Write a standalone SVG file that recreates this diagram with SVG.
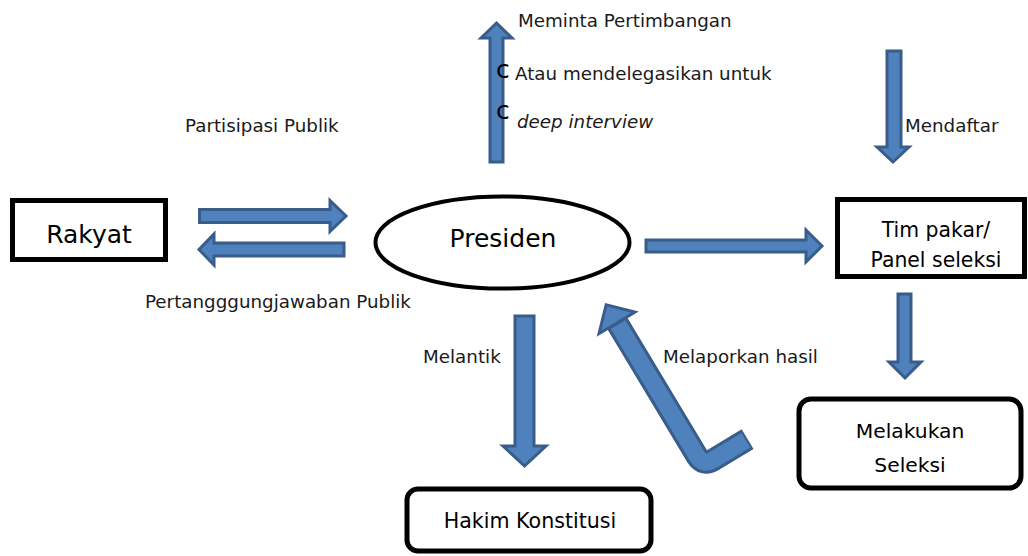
<svg xmlns="http://www.w3.org/2000/svg" width="1028" height="556" viewBox="0 0 1028 556">
  <style>
    .box { fill: #ffffff; stroke: #000000; stroke-width: 5; }
    .node-text { font-family: "DejaVu Sans", Verdana, sans-serif; fill: #000000; text-anchor: middle; }
    .label { font-family: "DejaVu Sans", Verdana, sans-serif; fill: #1a1a1a; font-size: 18.3px; }
    .bullet { font-family: "DejaVu Sans", Verdana, sans-serif; fill: #000000; font-size: 25px; }
    .arrow { fill: #4F81BD; stroke: #385D8A; stroke-width: 3; stroke-linejoin: miter; }
  </style>

  <!-- nodes -->
  <g id="rakyat">
    <rect class="box" x="12.5" y="200.5" width="153" height="59"/>
    <text class="node-text" x="89" y="243" font-size="25">Rakyat</text>
  </g>

  <g id="presiden">
    <ellipse cx="502.5" cy="242.5" rx="127" ry="46" fill="#ffffff" stroke="#000000" stroke-width="4"/>
    <text class="node-text" x="503" y="247" font-size="25">Presiden</text>
  </g>

  <g id="tim-pakar">
    <rect class="box" x="837.5" y="199.5" width="187" height="77"/>
    <text class="node-text" x="936" y="237" font-size="20.4">Tim pakar/</text>
    <text class="node-text" x="936" y="267" font-size="20.4">Panel seleksi</text>
  </g>

  <g id="melakukan-seleksi">
    <rect class="box" x="799" y="399" width="222" height="89" rx="12" ry="12" stroke-width="4.5"/>
    <text class="node-text" x="910" y="438" font-size="20.3">Melakukan</text>
    <text class="node-text" x="910" y="472" font-size="20.3">Seleksi</text>
  </g>

  <g id="hakim-konstitusi">
    <rect class="box" x="407" y="489" width="244" height="62" rx="11" ry="11" stroke-width="4.5"/>
    <text class="node-text" x="530" y="528" font-size="20.6">Hakim Konstitusi</text>
  </g>

  <!-- connectors -->
  <g id="connectors">
    <!-- Rakyat -> Presiden -->
    <polygon class="arrow" points="199.5,209.5 330,209.5 330,200.5 346,216 330,231.5 330,222.5 199.5,222.5"/>
    <!-- Presiden -> Rakyat -->
    <polygon class="arrow" points="344,243 214,243 214,234 199,249.5 214,265 214,256 344,256"/>
    <!-- Presiden -> Tim pakar -->
    <polygon class="arrow" points="646,240 806,240 806,230 822,246 806,262 806,252 646,252"/>
    <!-- Presiden upward (consultation) -->
    <polygon class="arrow" points="490,162 490,38 481,38 496.5,23 512,38 503,38 503,162"/>
    <!-- Mendaftar -> Tim pakar -->
    <polygon class="arrow" points="887,51 901,51 901,147 909,147 893,162 877,147 887,147"/>
    <!-- Tim pakar -> Melakukan Seleksi -->
    <polygon class="arrow" points="898,294 911,294 911,362 921,362 905,378 889,362 898,362"/>
    <!-- Presiden -> Hakim Konstitusi -->
    <polygon class="arrow" points="515,316 534,316 534,446 546,446 524.5,466 503,446 515,446"/>
    <!-- Melakukan Seleksi -> Presiden (bent) -->
    <g transform="translate(703,466) rotate(-31)">
      <path d="M0,-168 V-12 Q0,0 12,0 H52" fill="none" stroke="#385D8A" stroke-width="23" stroke-linejoin="round"/>
      <polygon points="-21,-167 0,-188 21,-167" fill="#4F81BD" stroke="#385D8A" stroke-width="3" stroke-linejoin="miter"/>
      <path d="M0,-165 V-12 Q0,0 12,0 H50" fill="none" stroke="#4F81BD" stroke-width="17" stroke-linejoin="round"/>
    </g>
  </g>

  <!-- edge labels -->
  <g id="labels">
    <text class="label" x="185" y="132" font-size="18.5">Partisipasi Publik</text>
    <text class="label" x="145" y="308">Pertangggungjawaban Publik</text>
    <text class="label" x="518" y="27" font-size="18.5">Meminta Pertimbangan</text>
    <text class="bullet" x="496" y="78">c</text>
    <text class="label" x="515" y="80" font-size="18.5">Atau mendelegasikan untuk</text>
    <text class="bullet" x="496" y="119">c</text>
    <text class="label" x="517" y="128" font-style="italic">deep interview</text>
    <text class="label" x="905" y="132">Mendaftar</text>
    <text class="label" x="423" y="363">Melantik</text>
    <text class="label" x="663" y="363">Melaporkan hasil</text>
  </g>
</svg>
